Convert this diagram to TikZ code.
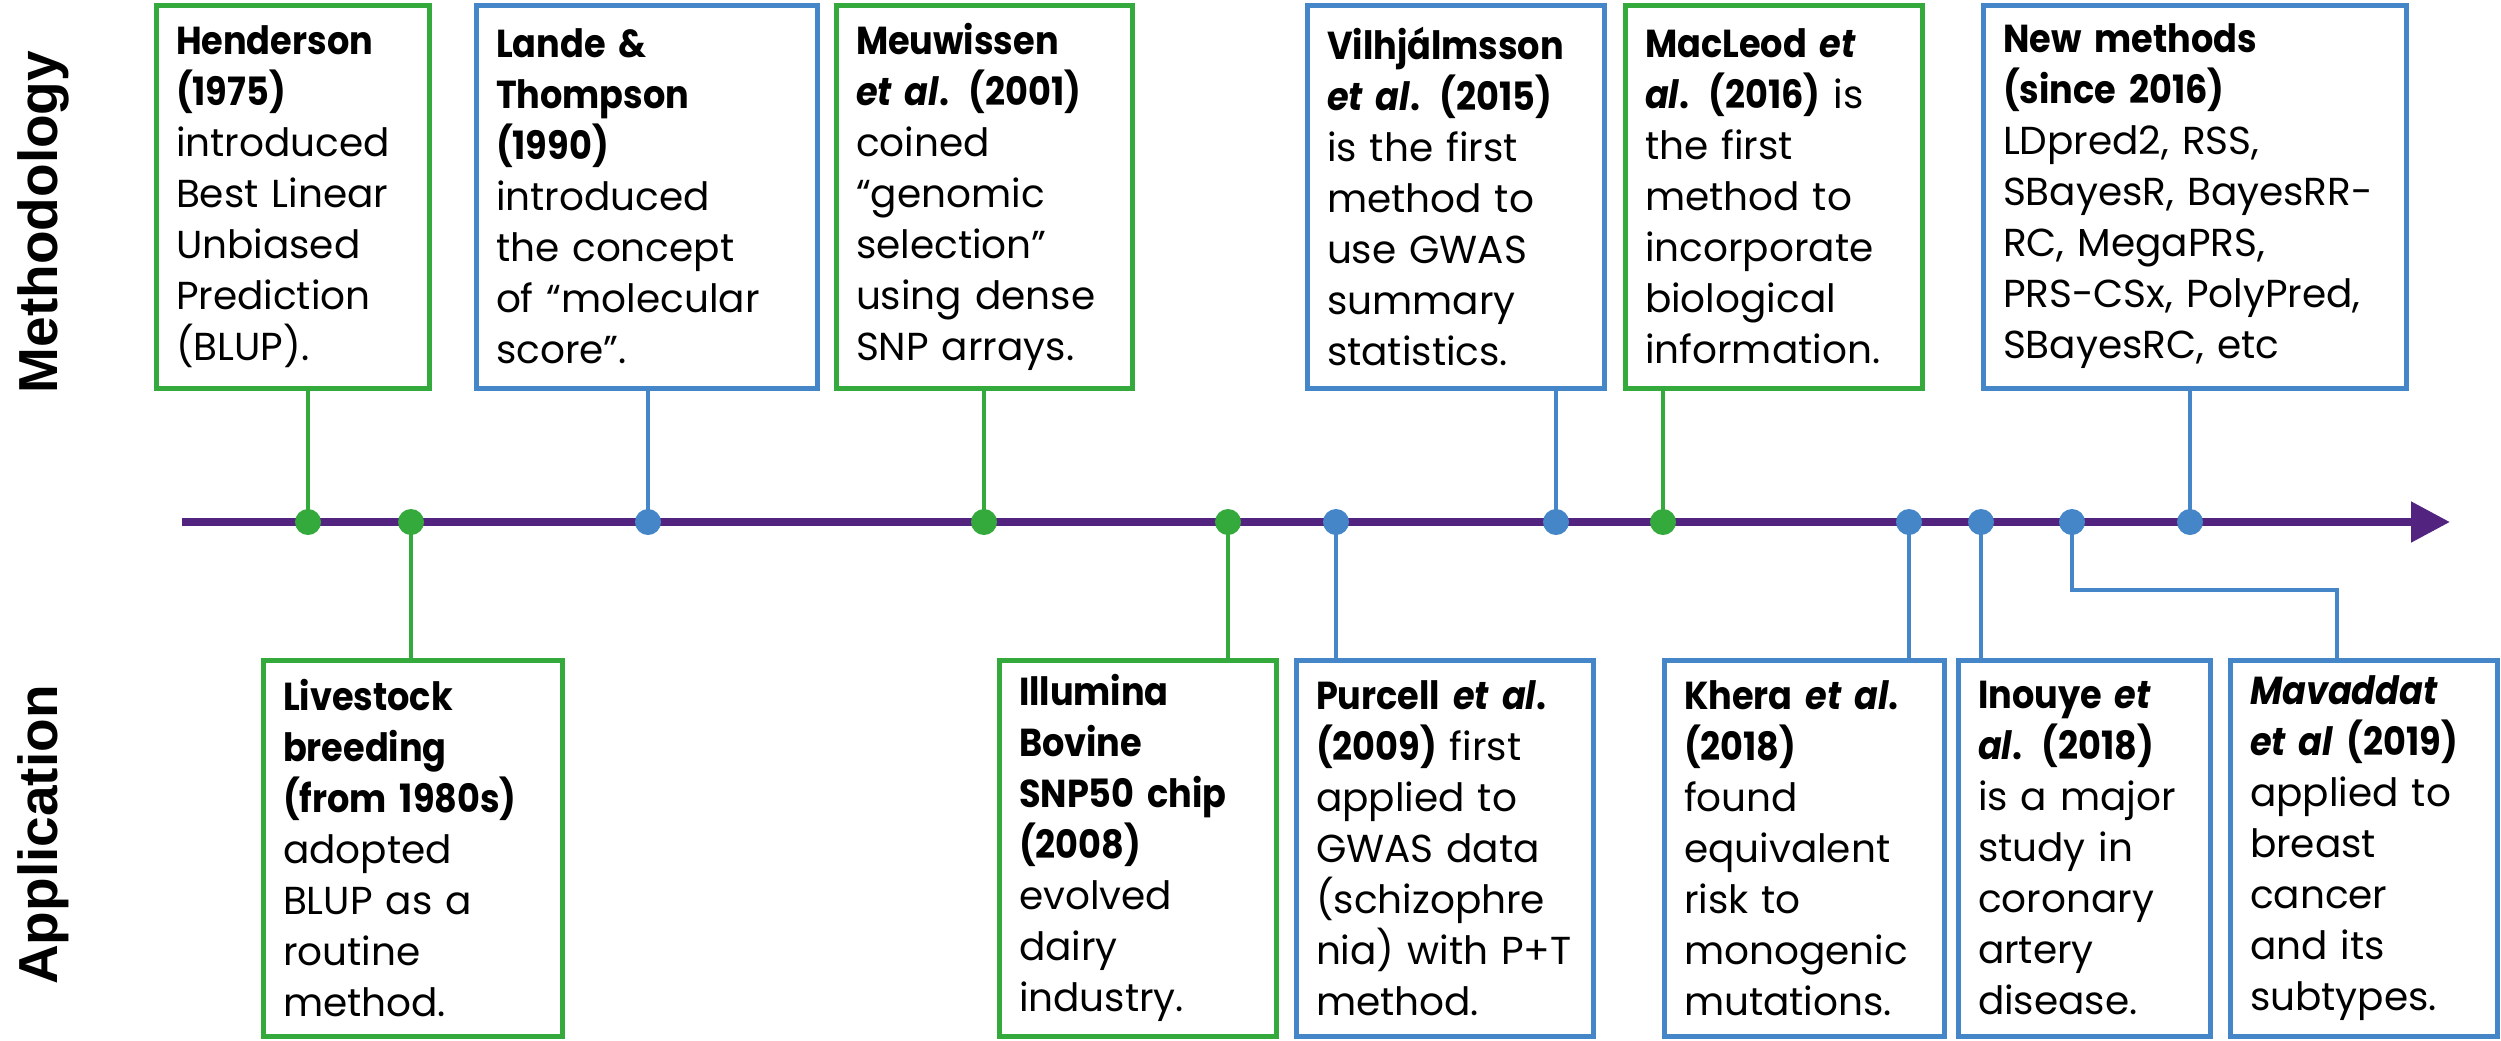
\documentclass[tikz,border=0pt]{standalone}
\usepackage{fontspec}
\setmainfont{Poppins}[BoldFeatures={FakeStretch=0.9},BoldItalicFeatures={FakeStretch=0.9}]
\newfontfamily\sidefont{Liberation Sans}
\usetikzlibrary{arrows.meta}
\definecolor{mgreen}{RGB}{51,170,59}
\definecolor{mblue}{RGB}{68,134,200}
\definecolor{mpurple}{RGB}{82,36,127}
\begin{document}
\begin{tikzpicture}[x=0.3pt,y=-0.3pt,
  card/.style={draw=#1, line width=1.5pt, fill=white, inner xsep=6pt, inner ysep=0pt,
    align=left, font=\fontsize{11.7}{15.3}\selectfont, anchor=center},
  topcard/.style={minimum height=114.9pt},
  botcard/.style={minimum height=112.8pt},
  link/.style={draw=#1, line width=1.4pt},
  dotmark/.style={circle, fill=#1, inner sep=0pt, minimum size=7.8pt},
  side/.style={font=\sidefont\bfseries\fontsize{16.5}{18}\selectfont, rotate=90, anchor=base},
  timeline/.style={draw=mpurple, line width=2.4pt, -{Triangle[length=11.7pt,width=11.7pt]}}
]
\useasboundingbox (0,0) rectangle (2501,1040);

% side labels
\node[side] (lmeth) at (58,222) {Methodology};
\node[side] (lapp) at (57,835) {Application};

% timeline positions
\coordinate (tstart) at (182,522);
\coordinate (tend) at (2450,522);
\coordinate (p1) at (308,522);
\coordinate (p2) at (411,522);
\coordinate (p3) at (648,522);
\coordinate (p4) at (984,522);
\coordinate (p5) at (1228,522);
\coordinate (p6) at (1336,522);
\coordinate (p7) at (1556,522);
\coordinate (p8) at (1663,522);
\coordinate (p9) at (1909,522);
\coordinate (p10) at (1981,522);
\coordinate (p11) at (2072,522);
\coordinate (p12) at (2190,522);

% top cards
\node[card=mgreen, topcard, text width=69.9pt] (hend) at (292.5,196.5)
  {\textbf{Henderson}\\\textbf{(1975)}\\introduced\\Best Linear\\Unbiased\\Prediction\\(BLUP).};
\node[card=mblue, topcard, text width=90.3pt] (lande) at (646.5,196.5)
  {\textbf{Lande \&}\\\textbf{Thompson}\\\textbf{(1990)}\\introduced\\the concept\\of “molecular\\score”.};
\node[card=mgreen, topcard, text width=76.8pt] (meuw) at (984,196.5)
  {\textbf{Meuwissen}\\\textbf{\textit{et al}. (2001)}\\coined\\“genomic\\selection”\\using dense\\SNP arrays.};
\node[card=mblue, topcard, text width=77.1pt] (vilh) at (1455.5,196.5)
  {\textbf{Vilhjálmsson}\\\textbf{\textit{et al}. (2015)}\\is the first\\method to\\use GWAS\\summary\\statistics.};
\node[card=mgreen, topcard, text width=77.1pt] (macl) at (1773.5,196.5)
  {\textbf{MacLeod \textit{et}}\\\textbf{\textit{al}. (2016)} is\\the first\\method to\\incorporate\\biological\\information.};
\node[card=mblue, topcard, text width=114.9pt] (newm) at (2194.5,196.5)
  {\textbf{New methods}\\\textbf{(since 2016)}\\LDpred2, RSS,\\SBayesR, BayesRR-\\RC, MegaPRS,\\PRS-CSx, PolyPred,\\SBayesRC, etc};

% bottom cards
\node[card=mgreen, botcard, text width=77.7pt] (live) at (412.5,848)
  {\textbf{Livestock}\\\textbf{breeding}\\\textbf{(from 1980s)}\\adopted\\BLUP as a\\routine\\method.};
\node[card=mgreen, botcard, text width=71.1pt] (illu) at (1137.5,848)
  {\textbf{Illumina}\\\textbf{Bovine}\\\textbf{SNP50 chip}\\\textbf{(2008)}\\evolved\\dairy\\industry.};
\node[card=mblue, botcard, text width=77.1pt] (purc) at (1444.5,848)
  {\textbf{Purcell \textit{et al}.}\\\textbf{(2009)} first\\applied to\\GWAS data\\(schizophre\\nia) with P+T\\method.};
\node[card=mblue, botcard, text width=72pt] (kher) at (1804,848)
  {\textbf{Khera \textit{et al}.}\\\textbf{(2018)}\\found\\equivalent\\risk to\\monogenic\\mutations.};
\node[card=mblue, botcard, text width=63.6pt] (inou) at (2084,848)
  {\textbf{Inouye \textit{et}}\\\textbf{\textit{al}. (2018)}\\is a major\\study in\\coronary\\artery\\disease.};
\node[card=mblue, botcard, text width=68.1pt] (mava) at (2363.5,848)
  {\textbf{\textit{Mavaddat}}\\\mbox{\textbf{\textit{et al} (2019)}}\\applied to\\breast\\cancer\\and its\\subtypes.};

% timeline
\draw[timeline] (tstart) -- (tend);

% connectors
\draw[link=mgreen] (p1) -- (p1 |- hend.south);
\draw[link=mblue] (p3) -- (p3 |- lande.south);
\draw[link=mgreen] (p4) -- (p4 |- meuw.south);
\draw[link=mblue] (p7) -- (p7 |- vilh.south);
\draw[link=mgreen] (p8) -- (p8 |- macl.south);
\draw[link=mblue] (p12) -- (p12 |- newm.south);
\draw[link=mgreen] (p2) -- (p2 |- live.north);
\draw[link=mgreen] (p5) -- (p5 |- illu.north);
\draw[link=mblue] (p6) -- (p6 |- purc.north);
\draw[link=mblue] (p9) -- (p9 |- kher.north);
\draw[link=mblue] (p10) -- (p10 |- inou.north);
\coordinate (e1) at (2072,590);
\coordinate (e2) at (2337,590);
\draw[link=mblue] (p11) -- (e1) -- (e2) -- (e2 |- mava.north);

% dots
\foreach \p/\c in {p1/mgreen,p2/mgreen,p3/mblue,p4/mgreen,p5/mgreen,p6/mblue,
                   p7/mblue,p8/mgreen,p9/mblue,p10/mblue,p11/mblue,p12/mblue}
  \node[dotmark=\c] (d\p) at (\p) {};
\end{tikzpicture}
\end{document}
